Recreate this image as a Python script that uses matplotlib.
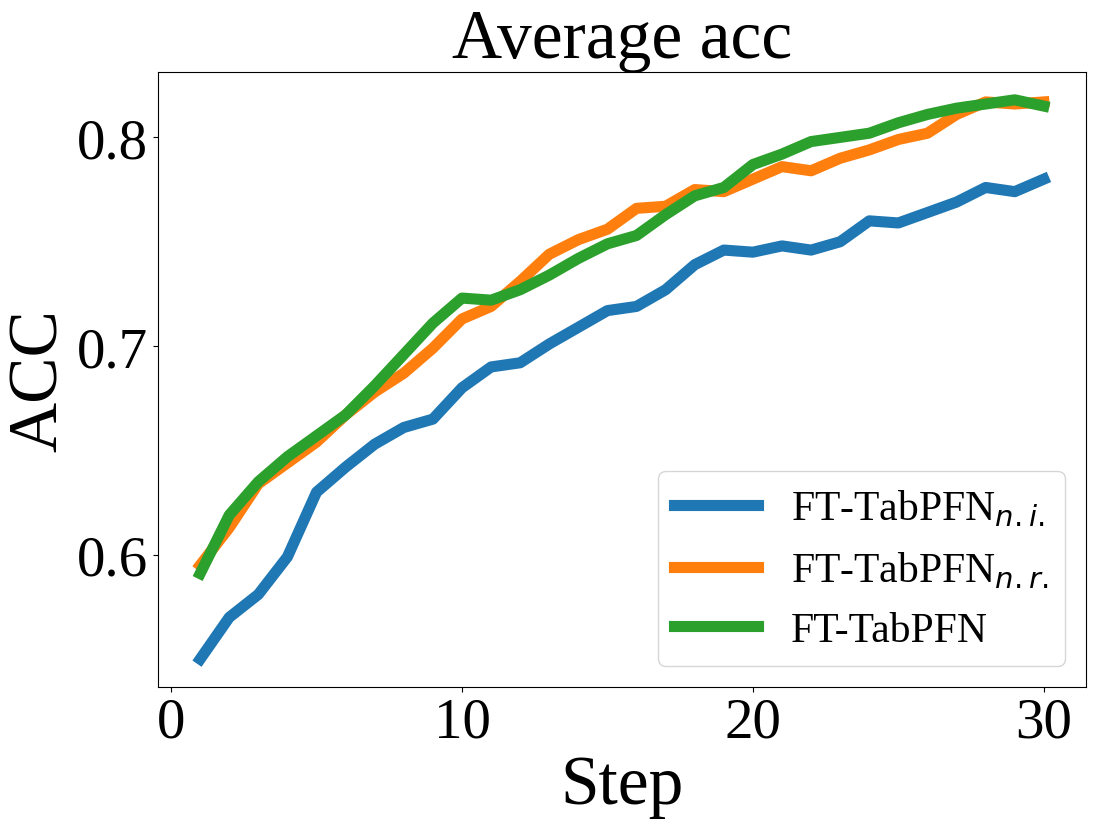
import matplotlib
matplotlib.use("Agg")
import matplotlib.pyplot as plt

steps = list(range(1, 31))
acc_ni = [0.550, 0.570, 0.581, 0.599, 0.630, 0.642, 0.653, 0.661, 0.665, 0.680,
          0.690, 0.692, 0.701, 0.709, 0.717, 0.719, 0.727, 0.739, 0.746, 0.745,
          0.748, 0.746, 0.750, 0.760, 0.759, 0.764, 0.769, 0.776, 0.774, 0.780]
acc_nr = [0.595, 0.613, 0.634, 0.644, 0.654, 0.667, 0.678, 0.687, 0.699, 0.713,
          0.719, 0.731, 0.744, 0.751, 0.756, 0.766, 0.767, 0.775, 0.774, 0.780,
          0.786, 0.784, 0.790, 0.794, 0.799, 0.802, 0.811, 0.817, 0.816, 0.817]
acc_ft = [0.591, 0.619, 0.635, 0.647, 0.657, 0.667, 0.681, 0.696, 0.711, 0.723,
          0.722, 0.727, 0.734, 0.742, 0.749, 0.753, 0.763, 0.772, 0.776, 0.787,
          0.792, 0.798, 0.800, 0.802, 0.807, 0.811, 0.814, 0.816, 0.818, 0.815]
labels = ["FT-TabPFN$_{n.i.}$", "FT-TabPFN$_{n.r.}$", "FT-TabPFN"]

plt.rcParams['font.family'] = ['Liberation Serif', 'DejaVu Serif']
plt.rcParams['mathtext.fontset'] = 'dejavusans'

fig = plt.figure(figsize=(10.97, 8.28), dpi=100)
ax = fig.add_axes([0.144, 0.169, 0.846, 0.743])
for ys, lab in zip([acc_ni, acc_nr, acc_ft], labels):
    ax.plot(steps, ys, linewidth=8, label=lab)

ax.set_title("Average acc", fontsize=50)
ax.set_xlabel("Step", fontsize=50)
ax.set_ylabel("ACC", fontsize=50)
ax.tick_params(labelsize=41)
ax.set_xticks([0, 10, 20, 30])
ax.set_yticks([0.6, 0.7, 0.8])
ax.legend(loc="lower right", fontsize=30)
fig.savefig("out.png", dpi=100)
